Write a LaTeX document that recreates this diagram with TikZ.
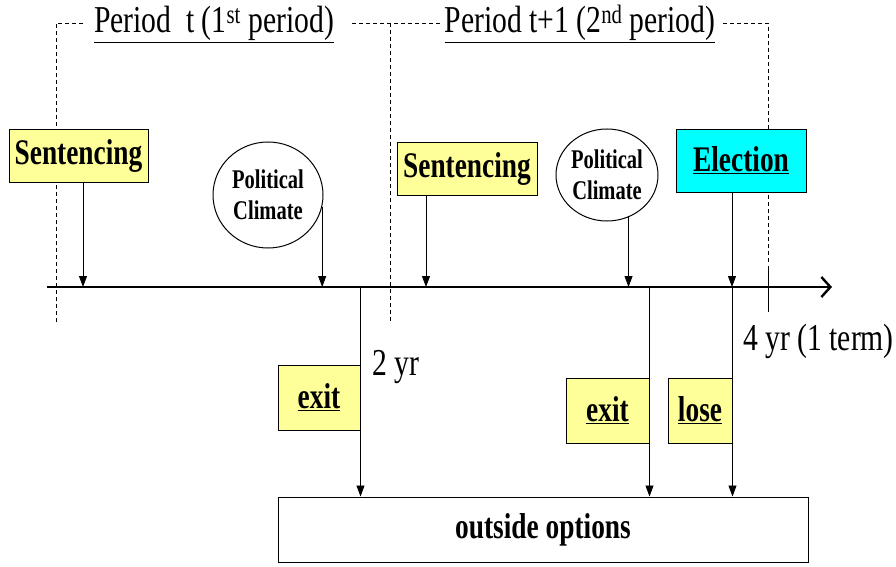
\documentclass[tikz,border=0pt]{standalone}
\usepackage{fontspec}
\setmainfont{Liberation Serif}
\newfontfamily\tms{Liberation Serif}
\usetikzlibrary{arrows.meta,shapes.geometric}
\definecolor{ylw}{RGB}{255,255,153}
\definecolor{cyn}{RGB}{0,255,255}
\newcommand\sx[1]{\scalebox{0.76}[1]{#1}}
\newcommand\rt[1]{\scalebox{0.78}[1]{#1}}
\begin{document}
\begin{tikzpicture}[x=1pt,y=-1pt,
  box/.style={draw,line width=1pt,inner sep=0pt,font=\tms\fontsize{36}{38}\selectfont\bfseries},
  ybox/.style={box,fill=ylw},
  cbox/.style={box,fill=cyn},
  cloud/.style={draw,ellipse,line width=1pt,inner sep=0pt,align=center,font=\tms\fontsize{27}{31}\selectfont\bfseries},
  arr/.style={line width=0.8pt,-{Triangle[length=11pt,width=8pt]}},
  ln/.style={line width=0.8pt},
  dsh/.style={line width=0.8pt,dash pattern=on 4pt off 3pt},
  lbl/.style={inner sep=0pt,font=\tms\fontsize{38}{40}\selectfont}]
\useasboundingbox (0,0) rectangle (896,567);
% timeline
\coordinate (a0) at (47,287);
\coordinate (a1) at (832,287);
\draw[line width=2.8pt,-{Straight Barb[length=9pt,width=20pt,line width=2.4pt]}] (a0) -- (a1);
% period labels
\node[lbl,anchor=base] (p1) at (214,33) {\rt{\underline{Period~~t (1\textsuperscript{st} period)}}};
\node[lbl,anchor=base] (p2) at (580,33) {\rt{\underline{Period t+1 (2\textsuperscript{nd} period)}}};
% dashed boundaries
\coordinate (d1t) at (56,23); \coordinate (d1b) at (56,322); \coordinate (d1r) at (85,23);
\coordinate (d2l) at (352,23); \coordinate (d2t) at (390,23); \coordinate (d2r) at (440,23); \coordinate (d2b) at (390,322);
\coordinate (d3l) at (723,23); \coordinate (d3t) at (768,23); \coordinate (d3b) at (768,262);
\coordinate (k1) at (768,266); \coordinate (k2) at (768,312);
\draw[dsh] (d1b) -- (d1t) -- (d1r);
\draw[dsh] (d2l) -- (d2r);
\draw[dsh] (d2t) -- (d2b);
\draw[dsh] (d3l) -- (d3t) -- (d3b);
\draw[ln] (k1) -- (k2);
% nodes
\node[ybox,minimum width=139pt,minimum height=53pt] (s1) at (78.5,155.5) {\sx{Sentencing}};
\node[ybox,minimum width=140pt,minimum height=53pt] (s2) at (467,168.5) {\sx{Sentencing}};
\node[cbox,minimum width=130pt,minimum height=63pt] (el) at (741,160.5) {\sx{\underline{Election}}};
\node[cloud,minimum width=110pt,minimum height=106pt] (c1) at (268,195) {\sx{Political}\\\sx{Climate}};
\node[cloud,minimum width=102pt,minimum height=92pt] (c2) at (607,175) {\sx{Political}\\\sx{Climate}};
\node[ybox,minimum width=82pt,minimum height=65pt] (e1) at (319,397.5) {\sx{\underline{exit}}};
\node[ybox,minimum width=83pt,minimum height=65pt] (e2) at (607.5,410.5) {\sx{\underline{exit}}};
\node[ybox,minimum width=64pt,minimum height=65pt] (lo) at (700,410.5) {\sx{\underline{lose}}};
\node[box,fill=white,minimum width=530pt,minimum height=65pt] (oo) at (543,529.5) {\sx{outside options}};
\node[lbl,anchor=base west] (y2) at (372,375) {\rt{2 yr}};
\node[lbl,anchor=base west] (y4) at (743,350) {\rt{4 yr (1 term)}};
% arrows onto timeline
\coordinate (t1) at (83,287);
\coordinate (t3) at (426,287);
\draw[arr] (s1.south -| t1) -- (t1);
\draw[arr] (c1.-12) -- (c1.-12 |- a0);
\draw[arr] (s2.south -| t3) -- (t3);
\draw[arr] (c2.-63) -- (c2.-63 |- a0);
\coordinate (x4) at (732,287);
\draw[arr] (el.south -| x4) -- (x4);
% lines down to outside options
\draw[arr] (e1.east |- a0) -- (e1.east |- oo.north);
\draw[arr] (e2.east |- a0) -- (e2.east |- oo.north);
\draw[arr] (lo.east |- a0) -- (lo.east |- oo.north);
\end{tikzpicture}
\end{document}
